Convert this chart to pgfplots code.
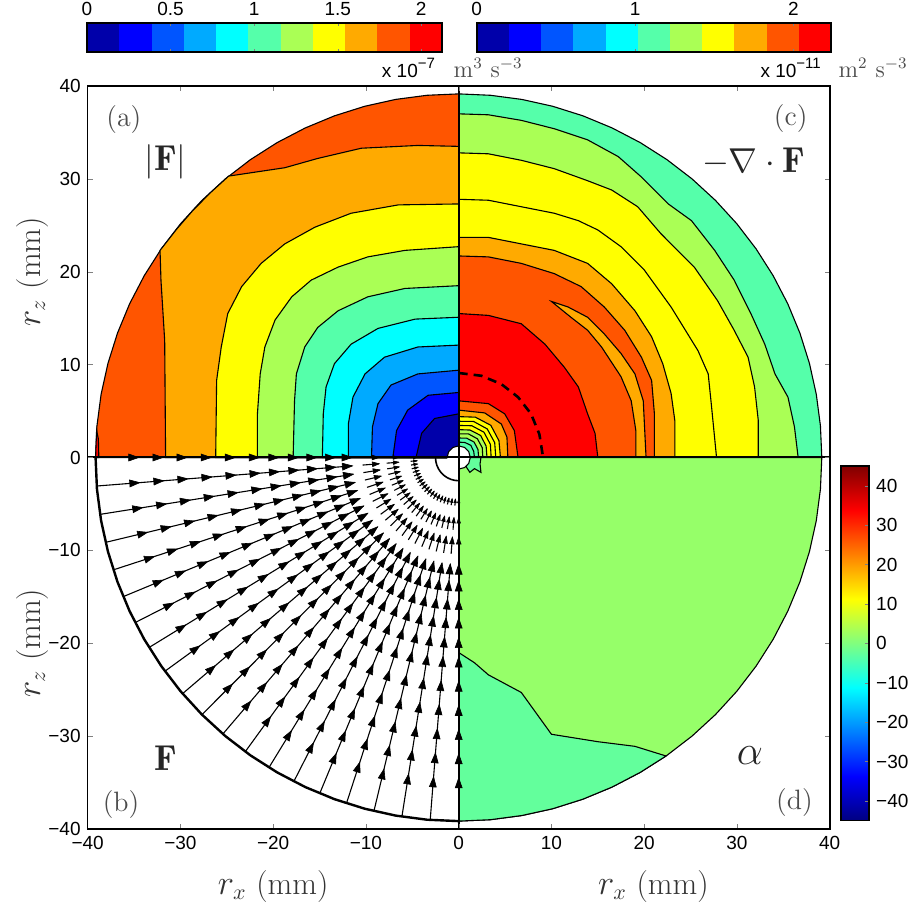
\documentclass[border=0pt]{standalone}
\usepackage{fontspec}
\usepackage{pgfplots}
\pgfplotsset{compat=1.18}
\newfontfamily\hel{Liberation Sans}

\definecolor{cb0}{HTML}{0000AA}
\definecolor{cb1}{HTML}{0000FF}
\definecolor{cb2}{HTML}{0055FF}
\definecolor{cb3}{HTML}{00AAFF}
\definecolor{cb4}{HTML}{00FFFF}
\definecolor{cb5}{HTML}{55FFAA}
\definecolor{cb6}{HTML}{AAFF55}
\definecolor{cb7}{HTML}{FFFF00}
\definecolor{cb8}{HTML}{FFAA00}
\definecolor{cb9}{HTML}{FF5500}
\definecolor{cb10}{HTML}{FF0000}
\definecolor{alphaA}{HTML}{96FF69}
\definecolor{alphaB}{HTML}{63FF9C}

% arrow head pointing along +x, tip at the data point
\pgfdeclareplotmark{ahead}{%
  \pgfpathmoveto{\pgfqpoint{0pt}{0pt}}%
  \pgfpathlineto{\pgfqpoint{-2\pgfplotmarksize}{0.7\pgfplotmarksize}}%
  \pgfpathlineto{\pgfqpoint{-2\pgfplotmarksize}{-0.7\pgfplotmarksize}}%
  \pgfpathclose\pgfusepathqfillstroke}

\pgfplotsset{
  cont/.style={draw=black, line width=0.55pt},
  ray/.style={black, line width=0.55pt, data cs=polar},
}
\tikzset{
  tl/.style={font=\hel\fontsize{9.5}{10}\selectfont},
  plab/.style={text=black!70, font=\fontsize{14}{16}\selectfont},
  slab/.style={text=black!85, font=\fontsize{18}{20}\selectfont},
  alab/.style={text=black!80, font=\fontsize{16}{18}\selectfont},
}

\begin{document}
\begin{tikzpicture}
\useasboundingbox (-43.85pt,-37.5pt) rectangle (411.15pt,414.5pt);

\begin{axis}[name=main, at={(0pt,0pt)}, anchor=south west,
  scale only axis, width=371pt, height=371.5pt,
  xmin=-40, xmax=40, ymin=-40, ymax=40,
  xtick={-40,-30,...,40}, ytick={-40,-30,...,40},
  xticklabels={−40,−30,−20,−10,0,10,20,30,40},
  yticklabels={−40,−30,−20,−10,0,10,20,30,40},
  tick label style={tl},
  tick align=inside, major tick length=2.5pt,
  xtick pos=both, ytick pos=both,
  axis on top, axis line style={line width=0.8pt},
  clip=false,
  colormap/jet, point meta min=-45, point meta max=45,
  colorbar,
  colorbar style={at={(parent axis.south east)}, anchor=south west,
    xshift=-3pt, yshift=4.15pt, scale only axis,
    width=14.2pt, height=177.3pt,
    ytick={-40,-30,...,40},
    yticklabels={−40,−30,−20,−10,0,10,20,30,40},
    yticklabel style={tl},
    tick align=inside, major tick length=2pt,
    ytick pos=right, yticklabel pos=right,
    axis line style={line width=0.8pt}},
]

% ---------- (a) |F| ----------
\addplot[cont, fill=cb9, data cs=polar] coordinates {(90,39.15)(95,39.15)(100,39.15)(105,39.15)(110,39.15)(115,39.15)(120,39.15)(125,39.15)(130,39.15)(135,39.15)(140,39.15)(145,39.15)(150,39.15)(155,39.15)(160,39.15)(165,39.15)(170,39.15)(175,39.15)(180,39.15)(0,0)} -- cycle;
\addplot[cont, fill=cb10] coordinates {(-39.15,0)(-38.8,0)(-38.85,2.0)(-39.04,2.9)} -- cycle;
\addplot[cont, fill=cb8] coordinates {(0,33.5)(-4.4,33.6)(-10.5,33.3)(-15.2,32.2)(-18.75,31.2)(-24.8,30.3)(-26.67,28.60)(-28.60,26.67)(-30.39,24.61)(-32.2,22.3)(-32.1,19.1)(-31.7,12.6)(-31.6,0)(0,0)} -- cycle;
\addplot[cont, fill=cb7] coordinates {(0,27.3)(-6.5,27.2)(-11.6,26.3)(-15.5,24.8)(-18.75,23.0)(-21.3,20.9)(-23.4,18.4)(-24.9,15.5)(-25.6,11.9)(-26.1,8.3)(-26.2,0)(0,0)} -- cycle;
\addplot[cont, fill=cb6] coordinates {(0,22.7)(-5.8,22.3)(-9.8,21.6)(-13,20.5)(-15.9,19.1)(-18,17.3)(-19.8,14.8)(-20.9,11.9)(-21.4,9.0)(-21.7,4.7)(-21.7,0)(0,0)} -- cycle;
\addplot[cont, fill=cb5] coordinates {(0,18.5)(-5.8,18.2)(-9.8,17.3)(-13,15.8)(-15.2,14.0)(-16.6,11.9)(-17.5,9.0)(-17.7,6.1)(-17.85,0)(0,0)} -- cycle;
\addplot[cont, fill=cb4] coordinates {(0,15.1)(-4.7,14.9)(-8.7,13.9)(-11.6,12.2)(-13.4,10.1)(-14.3,7.6)(-14.6,4.7)(-14.7,0)(0,0)} -- cycle;
\addplot[cont, fill=cb3] coordinates {(0,12.1)(-4.4,11.9)(-8,10.8)(-10.1,9.0)(-11.4,6.5)(-11.9,3.6)(-11.9,0)(0,0)} -- cycle;
\addplot[cont, fill=cb2] coordinates {(0,9.4)(-4.4,9.0)(-7.3,7.8)(-8.7,5.8)(-9.3,3.3)(-9.4,0)(0,0)} -- cycle;
\addplot[cont, fill=cb1] coordinates {(0,7.0)(-3.3,6.7)(-5.5,5.1)(-6.7,2.9)(-7.1,0)(0,0)} -- cycle;
\addplot[cont, fill=cb0] coordinates {(0,4.7)(-2.6,4.2)(-4.0,2.6)(-4.6,0)(0,0)} -- cycle;

% ---------- (c) -div F ----------
\addplot[cont, fill=cb5, data cs=polar] coordinates {(0,39.15)(5,39.15)(10,39.15)(15,39.15)(20,39.15)(25,39.15)(30,39.15)(35,39.15)(40,39.15)(45,39.15)(50,39.15)(55,39.15)(60,39.15)(65,39.15)(70,39.15)(75,39.15)(80,39.15)(85,39.15)(90,39.15)(0,0)} -- cycle;
\addplot[cont, fill=cb6] coordinates {(0,37.0)(3.2,36.9)(6.75,36.3)(10.3,35.4)(13.9,34.2)(17.2,32.4)(19.7,30.2)(22.6,27.3)(25.1,25.5)(27.6,22.3)(29.7,19.1)(31.5,15.5)(33.0,12.2)(34.1,9.0)(35.5,6.5)(36.2,3.3)(36.6,0)(0,0)} -- cycle;
\addplot[cont, fill=cb7] coordinates {(0,32.8)(3.2,32.7)(6.75,32.0)(10.3,31.1)(13.9,29.8)(16.5,28.8)(19.3,27.0)(21.8,24.1)(25.4,20.5)(27.9,16.9)(29.7,13.7)(31.2,10.8)(31.9,7.6)(32.3,4.0)(32.3,0)(0,0)} -- cycle;
\addplot[cont, fill=cb7] coordinates {(0,27.8)(3.2,27.7)(6.75,27.0)(10.3,26.3)(12.9,25.5)(15.0,24.5)(17.5,22.7)(20.0,20.2)(22.9,16.2)(25.8,11.5)(26.9,9.0)(27.2,6.1)(27.8,0)(0,0)} -- cycle;
\addplot[cont, fill=cb8] coordinates {(0,23.7)(3.2,23.7)(6.75,23.0)(10.3,22.3)(13.9,20.9)(16.5,18.7)(19.0,15.8)(20.8,13.0)(22.0,10.1)(22.9,6.9)(23.3,4.0)(23.3,0)(0,0)} -- cycle;
\addplot[cont, fill=cb9] coordinates {(0,21.7)(3.2,21.6)(6.75,20.9)(10.3,19.8)(13.2,18.4)(15.7,16.2)(17.9,13.7)(19.7,10.8)(20.8,8.3)(21.1,4.7)(21.1,0)(0,0)} -- cycle;
\addplot[cont, fill=cb8] coordinates {(10.0,16.8)(11.8,16.2)(13.9,15.1)(15.7,13.3)(17.5,11.2)(19.0,9.0)(19.9,6.1)(20.2,0)(19.1,0)(19.1,2.9)(18.6,6.1)(17.5,8.7)(15.4,11.9)(13.9,13.7)(12.1,15.1)} -- cycle;
\addplot[cont, fill=cb10] coordinates {(0,15.5)(3.2,15.3)(6.75,14.4)(9.3,12.2)(11.4,9.7)(12.9,7.6)(13.9,4.7)(14.7,2.6)(15.0,0)(0,0)} -- cycle;
\addplot[black, line width=1.3pt, dash pattern=on 4.5pt off 3pt] coordinates {(0,9.1)(2.44,8.8)(4.6,7.9)(6.4,6.5)(7.8,4.7)(8.7,2.5)(9.1,0)};
\addplot[cont, fill=cb9] coordinates {(0,6.1)(3.2,5.8)(4.96,4.7)(6.0,2.9)(6.4,0)(0,0)} -- cycle;
\addplot[cont, fill=cb8] coordinates {(0,5.1)(2.8,4.8)(4.6,3.6)(5.2,2.2)(5.3,0)(0,0)} -- cycle;
\addplot[cont, fill=cb7, data cs=polar] coordinates {(90,4.4)(67.5,4.7)(45,4.9)(22.5,4.7)(0,4.5)(0,0)} -- cycle;
\addplot[cont, fill=cb7, data cs=polar] coordinates {(90,3.9)(67.5,4.2)(45,4.35)(22.5,4.2)(0,4.0)(0,0)} -- cycle;
\addplot[cont, fill=cb7, data cs=polar] coordinates {(90,3.45)(67.5,3.7)(45,3.85)(22.5,3.7)(0,3.5)(0,0)} -- cycle;
\addplot[cont, fill=cb6, data cs=polar] coordinates {(90,3.0)(67.5,3.2)(45,3.35)(22.5,3.2)(0,3.05)(0,0)} -- cycle;
\addplot[cont, fill=cb6, data cs=polar] coordinates {(90,2.55)(67.5,2.75)(45,2.85)(22.5,2.75)(0,2.6)(0,0)} -- cycle;
\addplot[cont, fill=cb5, data cs=polar] coordinates {(90,2.1)(67.5,2.25)(45,2.35)(22.5,2.25)(0,2.15)(0,0)} -- cycle;
\addplot[cont, fill=cb5, data cs=polar] coordinates {(90,1.65)(67.5,1.75)(45,1.85)(22.5,1.75)(0,1.7)(0,0)} -- cycle;

% ---------- (d) alpha ----------
\addplot[cont, fill=alphaA, data cs=polar] coordinates {(270,39.15)(275,39.15)(280,39.15)(285,39.15)(290,39.15)(295,39.15)(300,39.15)(305,39.15)(310,39.15)(315,39.15)(320,39.15)(325,39.15)(330,39.15)(335,39.15)(340,39.15)(345,39.15)(350,39.15)(355,39.15)(360,39.15)(0,0)} -- cycle;
\addplot[cont, fill=alphaB] coordinates {(0,-21.0)(1.7,-22.1)(3.2,-23.4)(6.75,-25.3)(10.0,-29.8)(15.0,-30.6)(19.0,-31.1)(22.36,-32.14)(19.58,-33.9)(16.55,-35.48)(13.39,-36.79)(10.13,-37.82)(6.8,-38.55)(3.41,-39.0)(0,-39.15)} -- cycle;
\addplot[cont, fill=alphaB] coordinates {(1.2,0)(2.4,0)(2.3,-0.7)(2.4,-1.6)(1.7,-1.2)(1.2,-1.6)(0.8,-1.0)} -- cycle;

% ---------- (b) F, arrows on a polar grid ----------
\addplot[black, line width=1.2pt, data cs=polar] coordinates {(180,39.15)(185,39.15)(190,39.15)(195,39.15)(200,39.15)(205,39.15)(210,39.15)(215,39.15)(220,39.15)(225,39.15)(230,39.15)(235,39.15)(240,39.15)(245,39.15)(250,39.15)(255,39.15)(260,39.15)(265,39.15)(270,39.15)};
\addplot[black, line width=0.8pt, data cs=polar] coordinates {(180,2.5)(190,2.5)(200,2.5)(210,2.5)(220,2.5)(230,2.5)(240,2.5)(250,2.5)(260,2.5)(270,2.5)};
\pgfplotsinvokeforeach{180,184.5,189,193.5,198,202.5,207,211.5,216,220.5,225,229.5,234,238.5,243,247.5,252,256.5,261,265.5,270}{
  \addplot[ray] coordinates {(#1,39.15)(#1,11.5)};
  \addplot[ray] coordinates {(#1,10.4)(#1,8.6)};
  \addplot[ray] coordinates {(#1,7.8)(#1,6.5)};
  \addplot[ray] coordinates {(#1,5.2)(#1,4.5)};
  \addplot[only marks, mark=ahead, mark size=2.5pt, data cs=polar,
    mark options={draw=black, fill=black, line width=0.3pt, rotate=#1+180}]
    coordinates {(#1,34.5)(#1,31.9)(#1,29.3)(#1,26.7)(#1,24.1)(#1,21.5)(#1,19.4)(#1,17.3)(#1,15.3)(#1,13.3)(#1,11.5)};
  \addplot[only marks, mark=ahead, mark size=1.7pt, data cs=polar,
    mark options={draw=black, fill=black, line width=0.3pt, rotate=#1+180}]
    coordinates {(#1,8.6)};
  \addplot[only marks, mark=ahead, mark size=1.3pt, data cs=polar,
    mark options={draw=black, fill=black, line width=0.3pt, rotate=#1+180}]
    coordinates {(#1,6.5)};
  \addplot[only marks, mark=ahead, mark size=0.9pt, data cs=polar,
    mark options={draw=black, fill=black, line width=0.3pt, rotate=#1+180}]
    coordinates {(#1,4.5)};
}

% centre hole and dividing lines
\addplot[fill=white, draw=none, data cs=polar] coordinates {(0,1.25)(30,1.25)(60,1.25)(90,1.25)(120,1.25)(150,1.25)(180,1.25)(210,1.25)(240,1.25)(270,1.25)(300,1.25)(330,1.25)(360,1.25)} -- cycle;
\addplot[black, line width=0.55pt, data cs=polar] coordinates {(0,1.25)(30,1.25)(60,1.25)(90,1.25)(120,1.25)(150,1.25)(180,1.25)};
\addplot[black, line width=0.55pt, data cs=polar] coordinates {(270,1.25)(300,1.25)(330,1.25)(360,1.25)};
\addplot[black, line width=1pt] coordinates {(0,-40)(0,40)};
\addplot[black, line width=1pt] coordinates {(-40,0)(40,0)};

% panel labels
\node[plab] at (axis cs:-36.1,36.4) {(a)};
\node[plab] at (axis cs:35.8,36.5) {(c)};
\node[plab] at (axis cs:-36.4,-37.4) {(b)};
\node[plab] at (axis cs:36.2,-37.1) {(d)};
\node[slab] at (axis cs:-31.6,31.8) {$|\mathbf{F}|$};
\node[slab] at (axis cs:31.8,31.8) {$-\nabla\cdot\mathbf{F}$};
\node[slab] at (axis cs:-31.6,-32.4) {$\mathbf{F}$};
\node[slab, font=\fontsize{21}{22}\selectfont] at (axis cs:31.4,-32.1) {$\alpha$};

% axis labels
\node[alab] at (axis cs:-20,-46.2) {$r_x$ (mm)};
\node[alab] at (axis cs:21,-46.2) {$r_x$ (mm)};
\node[alab, rotate=90] at (axis cs:-46.0,20) {$r_z$ (mm)};
\node[alab, rotate=90] at (axis cs:-46.0,-20) {$r_z$ (mm)};

% units of the two upper colour bars
\node[anchor=base east, font=\hel\fontsize{9.5}{10}\selectfont] at (axis cs:-1.8,40.9) {x 10\raisebox{0.9ex}{\fontsize{7.5}{8}\selectfont −7}};
\node[anchor=base west, text=black!70, font=\fontsize{12}{14}\selectfont] at (axis cs:-1.3,40.9) {m$^{3}$ s$^{-3}$};
\node[anchor=base east, font=\hel\fontsize{9.5}{10}\selectfont] at (axis cs:39.8,40.9) {x 10\raisebox{0.9ex}{\fontsize{7.5}{8}\selectfont −11}};
\node[anchor=base west, text=black!70, font=\fontsize{12}{14}\selectfont] at (axis cs:40.2,40.9) {m$^{2}$ s$^{-3}$};
\end{axis}

% upper colour bar, |F|
\begin{axis}[at={(-0.35pt,388.5pt)}, anchor=south west,
  scale only axis, width=177.5pt, height=14.5pt,
  xmin=0, xmax=2.124, ymin=0, ymax=1, ytick=\empty,
  xtick={0,0.5,1,1.5,2}, xticklabels={0,0.5,1,1.5,2},
  xtick pos=both, xticklabel pos=right,
  tick label style={tl}, tick align=inside, major tick length=1.5pt,
  axis on top, axis line style={line width=0.8pt}]
\addplot[fill=cb0, draw=none] coordinates {(0,0)(0,1)(0.1931,1)(0.1931,0)} -- cycle;
\addplot[fill=cb1, draw=none] coordinates {(0.1931,0)(0.1931,1)(0.3862,1)(0.3862,0)} -- cycle;
\addplot[fill=cb2, draw=none] coordinates {(0.3862,0)(0.3862,1)(0.5793,1)(0.5793,0)} -- cycle;
\addplot[fill=cb3, draw=none] coordinates {(0.5793,0)(0.5793,1)(0.7724,1)(0.7724,0)} -- cycle;
\addplot[fill=cb4, draw=none] coordinates {(0.7724,0)(0.7724,1)(0.9655,1)(0.9655,0)} -- cycle;
\addplot[fill=cb5, draw=none] coordinates {(0.9655,0)(0.9655,1)(1.1585,1)(1.1585,0)} -- cycle;
\addplot[fill=cb6, draw=none] coordinates {(1.1585,0)(1.1585,1)(1.3516,1)(1.3516,0)} -- cycle;
\addplot[fill=cb7, draw=none] coordinates {(1.3516,0)(1.3516,1)(1.5447,1)(1.5447,0)} -- cycle;
\addplot[fill=cb8, draw=none] coordinates {(1.5447,0)(1.5447,1)(1.7378,1)(1.7378,0)} -- cycle;
\addplot[fill=cb9, draw=none] coordinates {(1.7378,0)(1.7378,1)(1.9309,1)(1.9309,0)} -- cycle;
\addplot[fill=cb10, draw=none] coordinates {(1.9309,0)(1.9309,1)(2.124,1)(2.124,0)} -- cycle;
\end{axis}

% upper colour bar, -div F
\begin{axis}[at={(194.5pt,388.5pt)}, anchor=south west,
  scale only axis, width=177.2pt, height=14.5pt,
  xmin=0, xmax=2.238, ymin=0, ymax=1, ytick=\empty,
  xtick={0,1,2}, xticklabels={0,1,2},
  xtick pos=both, xticklabel pos=right,
  tick label style={tl}, tick align=inside, major tick length=1.5pt,
  axis on top, axis line style={line width=0.8pt}]
\addplot[fill=cb0, draw=none] coordinates {(0,0)(0,1)(0.2035,1)(0.2035,0)} -- cycle;
\addplot[fill=cb1, draw=none] coordinates {(0.2035,0)(0.2035,1)(0.4069,1)(0.4069,0)} -- cycle;
\addplot[fill=cb2, draw=none] coordinates {(0.4069,0)(0.4069,1)(0.6104,1)(0.6104,0)} -- cycle;
\addplot[fill=cb3, draw=none] coordinates {(0.6104,0)(0.6104,1)(0.8138,1)(0.8138,0)} -- cycle;
\addplot[fill=cb4, draw=none] coordinates {(0.8138,0)(0.8138,1)(1.0173,1)(1.0173,0)} -- cycle;
\addplot[fill=cb5, draw=none] coordinates {(1.0173,0)(1.0173,1)(1.2207,1)(1.2207,0)} -- cycle;
\addplot[fill=cb6, draw=none] coordinates {(1.2207,0)(1.2207,1)(1.4242,1)(1.4242,0)} -- cycle;
\addplot[fill=cb7, draw=none] coordinates {(1.4242,0)(1.4242,1)(1.6276,1)(1.6276,0)} -- cycle;
\addplot[fill=cb8, draw=none] coordinates {(1.6276,0)(1.6276,1)(1.8311,1)(1.8311,0)} -- cycle;
\addplot[fill=cb9, draw=none] coordinates {(1.8311,0)(1.8311,1)(2.0345,1)(2.0345,0)} -- cycle;
\addplot[fill=cb10, draw=none] coordinates {(2.0345,0)(2.0345,1)(2.238,1)(2.238,0)} -- cycle;
\end{axis}
\end{tikzpicture}
\end{document}
